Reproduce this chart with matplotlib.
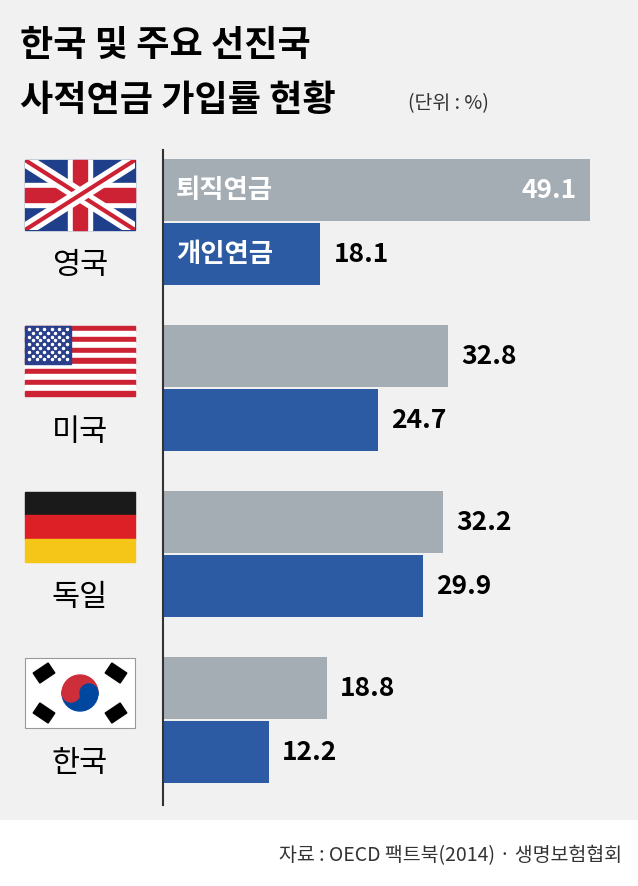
import matplotlib.pyplot as plt
import matplotlib.patches as mp
from matplotlib.lines import Line2D

plt.rcParams['font.family'] = ['Noto Sans CJK KR', 'DejaVu Sans']

countries = ['영국', '미국', '독일', '한국']
retire = [49.1, 32.8, 32.2, 18.8]     # 퇴직연금
personal = [18.1, 24.7, 29.9, 12.2]   # 개인연금
gray, blue = '#a4acb4', '#2c5ba3'

W, H = 638, 886
fig = plt.figure(figsize=(W / 100, H / 100), dpi=100)
fig.patch.set_facecolor('#f1f1f1')

# full-figure pixel axes for title, flags, footer
bg = fig.add_axes([0, 0, 1, 1])
bg.set_xlim(0, W); bg.set_ylim(H, 0); bg.axis('off')
bg.add_patch(mp.Rectangle((0, 820), W, 66, color='white'))
bg.text(20, 45, '한국 및 주요 선진국', fontsize=26, fontweight='bold', va='center')
bg.text(20, 100, '사적연금 가입률 현황', fontsize=26, fontweight='bold', va='center')
bg.text(408, 104, '(단위 : %)', fontsize=14, va='center', color='#333333')
bg.text(622, 856, '자료 : OECD 팩트북(2014) · 생명보험협회', fontsize=14, ha='right', va='center', color='#333333')

step = 166
fx, fw, fh = 25, 110, 70
for i, name in enumerate(countries):
    y0 = 160 + i * step
    bg.text(fx + fw / 2, y0 + 106, name, fontsize=22, ha='center', va='center')
    if i == 0:  # UK
        frame = mp.Rectangle((fx, y0), fw, fh, color='#1f3f8a')
        bg.add_patch(frame)
        for (a, b) in [((fx, y0), (fx + fw, y0 + fh)), ((fx, y0 + fh), (fx + fw, y0))]:
            for col, lw in [('white', 10), ('#cc2233', 3)]:
                ln = Line2D([a[0], b[0]], [a[1], b[1]], color=col, lw=lw)
                bg.add_line(ln)
                ln.set_clip_path(frame)
        bg.add_patch(mp.Rectangle((fx + fw / 2 - 12, y0), 24, fh, color='white'))
        bg.add_patch(mp.Rectangle((fx, y0 + fh / 2 - 12), fw, 24, color='white'))
        bg.add_patch(mp.Rectangle((fx + fw / 2 - 7, y0), 14, fh, color='#cc2233'))
        bg.add_patch(mp.Rectangle((fx, y0 + fh / 2 - 7), fw, 14, color='#cc2233'))
    elif i == 1:  # US
        sh = fh / 13
        for k in range(13):
            bg.add_patch(mp.Rectangle((fx, y0 + k * sh), fw, sh,
                                      color='#cc2233' if k % 2 == 0 else 'white'))
        bg.add_patch(mp.Rectangle((fx, y0), fw * 0.42, sh * 7, color='#2a3f8c'))
        for r in range(9):
            for c in range(6 if r % 2 == 0 else 5):
                bg.plot(fx + 4 + c * 7.5 + (3.7 if r % 2 else 0), y0 + 3 + r * 3.8,
                        'o', ms=1.5, color='white')
    elif i == 2:  # Germany
        for k, col in enumerate(['#1a1a1a', '#dd1f26', '#f5c518']):
            bg.add_patch(mp.Rectangle((fx, y0 + k * fh / 3), fw, fh / 3, color=col))
    else:  # Korea
        bg.add_patch(mp.Rectangle((fx, y0), fw, fh, facecolor='white', edgecolor='#999999', lw=0.8))
        cx, cy, r = fx + fw / 2, y0 + fh / 2, 18
        bg.add_patch(mp.Wedge((cx, cy), r, 180, 360, color='#cd2e3a'))
        bg.add_patch(mp.Wedge((cx, cy), r, 0, 180, color='#0047a0'))
        bg.add_patch(mp.Circle((cx - r / 2, cy), r / 2, color='#cd2e3a'))
        bg.add_patch(mp.Circle((cx + r / 2, cy), r / 2, color='#0047a0'))
        for (tx, ty, ang) in [(cx - 36, cy - 20, -34), (cx + 36, cy + 20, -34),
                              (cx + 36, cy - 20, 34), (cx - 36, cy + 20, 34)]:
            bg.add_patch(mp.Rectangle((tx - 9, ty - 6), 18, 12, angle=ang,
                                      rotation_point='center', color='black'))

# bar axes in pixel-like vertical units
ax = fig.add_axes([163 / W, (H - 805) / H, (W - 163) / W, 655 / H])
ax.set_facecolor('none')
ax.set_ylim(805, 150)
ax.set_xlim(0, (W - 163) / 8.7)
bh = 62
gy = [190 + i * step for i in range(4)]
by = [g + 64 for g in gy]
ax.barh(gy, retire, height=bh, color=gray)
ax.barh(by, personal, height=bh, color=blue)
fs = 19
for i in range(4):
    if i == 0:
        ax.text(retire[i] - 1.5, gy[i], f'{retire[i]}', color='white', fontsize=fs,
                fontweight='bold', ha='right', va='center')
    else:
        ax.text(retire[i] + 1.5, gy[i], f'{retire[i]}', fontsize=fs,
                fontweight='bold', ha='left', va='center')
    ax.text(personal[i] + 1.5, by[i], f'{personal[i]}', fontsize=fs,
            fontweight='bold', ha='left', va='center')
ax.text(1.5, gy[0], '퇴직연금', color='white', fontsize=fs, fontweight='bold', va='center')
ax.text(1.5, by[0], '개인연금', color='white', fontsize=fs, fontweight='bold', va='center')
for s in ['top', 'right', 'bottom']:
    ax.spines[s].set_visible(False)
ax.spines['left'].set_color('#333333')
ax.spines['left'].set_linewidth(1.5)
ax.set_xticks([]); ax.set_yticks([])

fig.savefig('out.png', dpi=100, facecolor=fig.get_facecolor())
